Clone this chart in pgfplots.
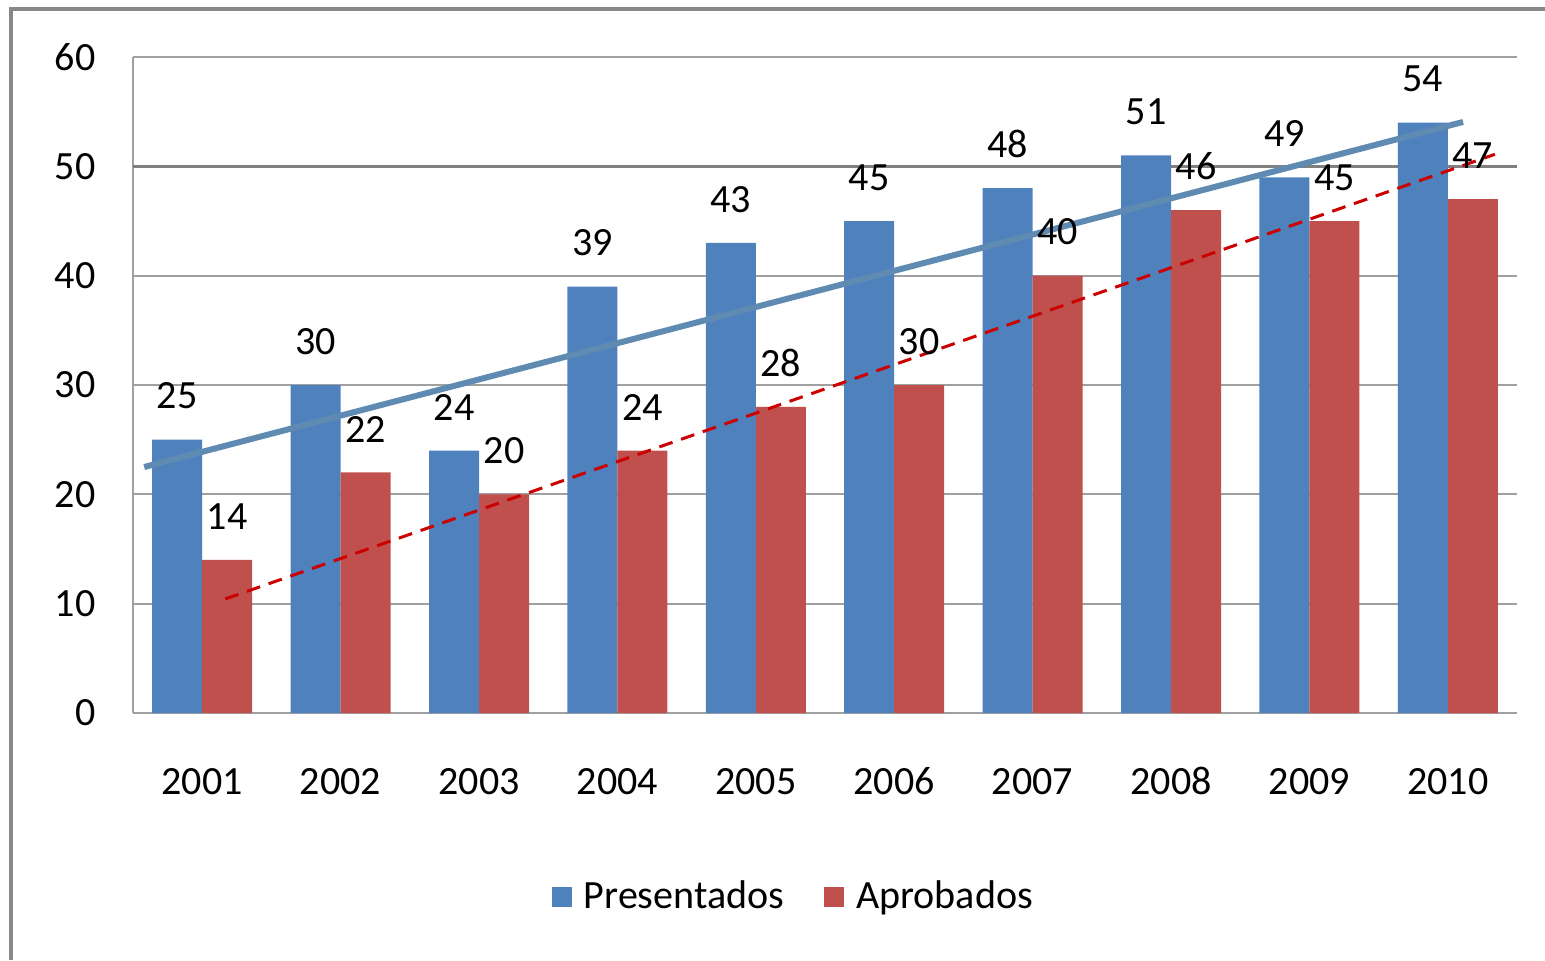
\documentclass[border=0pt]{standalone}
\usepackage{fontspec}
\setmainfont{Carlito}
\usepackage{pgfplots}
\pgfplotsset{compat=1.18}
\definecolor{barblue}{HTML}{4F81BD}
\definecolor{barred}{HTML}{C0504D}
\definecolor{trendblue}{HTML}{5F8BB3}
\definecolor{trendred}{HTML}{CC0000}
\definecolor{gridgray}{HTML}{A0A0A0}
\definecolor{darkgrid}{HTML}{808080}
\definecolor{framegray}{HTML}{888888}
\begin{document}
\begin{tikzpicture}[font=\fontsize{11.4pt}{13.7pt}\selectfont]
\path[use as bounding box] (0,0) rectangle (15.45,9.60);
\draw[framegray, line width=0.04cm] (0.11,0) -- (0.11,9.51) -- (15.45,9.51);
\begin{axis}[
 at={(1.33cm,2.47cm)}, anchor=south west,
 scale only axis, width=13.84cm, height=6.56cm,
 ybar=0pt, bar width=0.5cm,
 xmin=-0.5, xmax=9.5, ymin=0, ymax=60,
 xtick={0,1,2,3,4,5,6,7,8,9},
 xticklabels={2001,2002,2003,2004,2005,2006,2007,2008,2009,2010},
 ytick={0,10,20,30,40,50,60},
 ymajorgrids, grid style={gridgray, line width=0.02cm},
 axis x line*=bottom, axis y line*=left,
 axis line style={gridgray, line width=0.02cm, -},
 major tick length=0pt,
 /pgf/number format/assume math mode=true,
 yticklabel style={xshift=-0.25cm},
 xticklabel style={yshift=-0.42cm, text height=0.27cm, text depth=0pt},
 extra y ticks={50}, extra y tick labels={},
 extra y tick style={grid style={darkgrid, line width=0.03cm}},
 legend style={at={(axis description cs:0.479,-0.2805)}, anchor=center, draw=none,
   legend columns=2, /tikz/every even column/.append style={column sep=0.33cm}},
 legend image code/.code={\fill[#1] (0cm,-0.1cm) rectangle (0.2cm,0.1cm); \path (0.25cm,0cm);},
 nodes near coords style={anchor=south, yshift=0.18cm, black},
]
\addplot[fill=barblue, draw=none, nodes near coords] coordinates {
 (0,25) (1,30) (2,24) (3,39) (4,43) (5,45) (6,48) (7,51) (8,49) (9,54)};
\addlegendentry{Presentados}
\addplot[fill=barred, draw=none, nodes near coords] coordinates {
 (0,14) (1,22) (2,20) (3,24) (4,28) (5,30) (6,40) (7,46) (8,45) (9,47)};
\addlegendentry{Aprobados}
\addplot[sharp plot, trendblue, line width=0.06cm, forget plot] coordinates {(-0.419,22.5) (9.11,54.06)};
\addplot[sharp plot, trendred, line width=0.03cm, dash pattern=on 0.14cm off 0.09cm, forget plot] coordinates {(0.166,10.43) (9.34,51.1)};
\end{axis}
\end{tikzpicture}
\end{document}
